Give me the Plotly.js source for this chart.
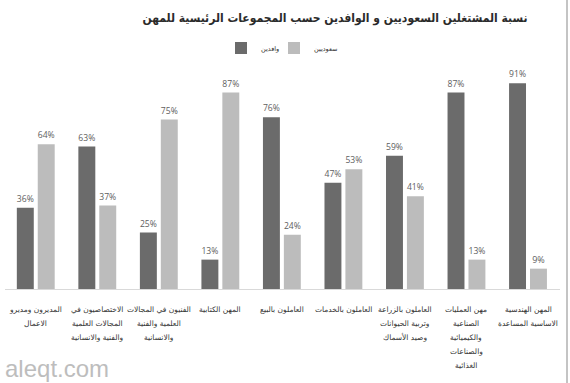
<!DOCTYPE html>
<html>
<head>
<meta charset="utf-8">
<script src="https://cdn.plot.ly/plotly-3.0.1.min.js"></script>
<style>
html,body{margin:0;padding:0;background:#fff;}
#wrap{position:relative;width:570px;height:383px;}
#chart{width:570px;height:383px;}
#edge{position:absolute;left:566px;top:0;width:2px;height:383px;background:#c4c4c4;}
</style>
</head>
<body>
<div id="wrap"><div id="chart"></div><div id="edge"></div></div>
<script>
// Data
const categories = ["c1","c2","c3","c4","c5","c6","c7","c8","c9"];
const categoryLabels = [
  ["المديرون ومديرو", "الاعمال"],
  ["الاختصاصيون في", "المجالات العلمية", "والفنية والانسانية"],
  ["الفنيون في المجالات", "العلمية والفنية", "والانسانية"],
  ["المهن الكتابية"],
  ["العاملون بالبيع"],
  ["العاملون بالخدمات"],
  ["العاملون بالزراعة", "وتربية الحيوانات", "وصيد الأسماك"],
  ["مهن العمليات", "الصناعية", "والكيميائية", "والصناعات", "الغذائية"],
  ["المهن الهندسية", "الاساسية المساعدة"]
];
const expatValues = [36, 63, 25, 13, 76, 47, 59, 87, 91];   // وافدين
const saudiValues = [64, 37, 75, 87, 24, 53, 41, 13, 9];    // سعوديين
const seriesNames = ["وافدين", "سعوديين"];
const titleText = "نسبة المشتغلين السعوديين و الوافدين حسب المجموعات الرئيسية للمهن";
const watermark = "aleqt.com";

const numFont = {family: "Open Sans, DejaVu Sans, sans-serif", size: 9, color: "#5e5e5e"};

const traces = [
  {type: "bar", x: categories, y: expatValues, name: seriesNames[0], legend: "legend2",
   marker: {color: "#6b6b6b"}, texttemplate: "%{y}%", textposition: "outside",
   textfont: numFont, cliponaxis: false, hoverinfo: "none"},
  {type: "bar", x: categories, y: saudiValues, name: seriesNames[1], legend: "legend",
   marker: {color: "#bcbcbc"}, texttemplate: "%{y}%", textposition: "outside",
   textfont: numFont, cliponaxis: false, hoverinfo: "none"}
];

const W = 570, H = 383, mL = 5, mR = 10, mT = 63, mB = 94;
const pw = W - mL - mR, ph = H - mT - mB;

const annotations = [];
categoryLabels.forEach((lines, i) => {
  lines.forEach((ln, j) => {
    annotations.push({
      x: categories[i], y: 0, xref: "x", yref: "paper",
      yanchor: "middle", xanchor: "center", yshift: -(20 + 14.2 * j),
      text: ln, showarrow: false,
      font: {family: "DejaVu Sans, sans-serif", size: 7.5, color: "#333"}
    });
  });
});
annotations.push({
  x: (3 - mL) / pw, y: (H - 368 - mB) / ph, xref: "paper", yref: "paper", showarrow: false,
  text: watermark, xanchor: "left", yanchor: "middle",
  font: {family: "Liberation Sans, sans-serif", size: 24, color: "#bdbdbd"}
});

const legFont = {family: "DejaVu Sans, sans-serif", size: 6.5, color: "#333"};
const layout = {
  width: W, height: H,
  margin: {l: mL, r: mR, t: mT, b: mB},
  paper_bgcolor: "#fff", plot_bgcolor: "#fff",
  title: {text: "<b>" + titleText + "</b>", x: 335 / W, xanchor: "center", xref: "container",
          y: 1 - 18 / H, yanchor: "middle", yref: "container",
          font: {family: "DejaVu Sans Condensed, DejaVu Sans, sans-serif", size: 12, color: "#2b2b2b"}},
  barmode: "group", bargap: 0.32, bargroupgap: 0.19,
  xaxis: {showticklabels: false, ticks: "", showgrid: false, zeroline: false,
          showline: true, linecolor: "#d9d9d9", linewidth: 1, fixedrange: true},
  yaxis: {range: [0, 100], visible: false, showgrid: false, zeroline: false},
  showlegend: true,
  legend2: {orientation: "h", x: 221 / W, xanchor: "left", xref: "container",
           y: 1 - 48 / H, yanchor: "middle", yref: "container",
           font: legFont, itemwidth: 30, bgcolor: "rgba(0,0,0,0)"},
  legend: {orientation: "h", x: 274 / W, xanchor: "left", xref: "container",
           y: 1 - 48 / H, yanchor: "middle", yref: "container",
           font: legFont, itemwidth: 30, bgcolor: "rgba(0,0,0,0)"},
  annotations: annotations
};

Plotly.newPlot("chart", traces, layout, {displayModeBar: false, staticPlot: true});
</script>
</body>
</html>
